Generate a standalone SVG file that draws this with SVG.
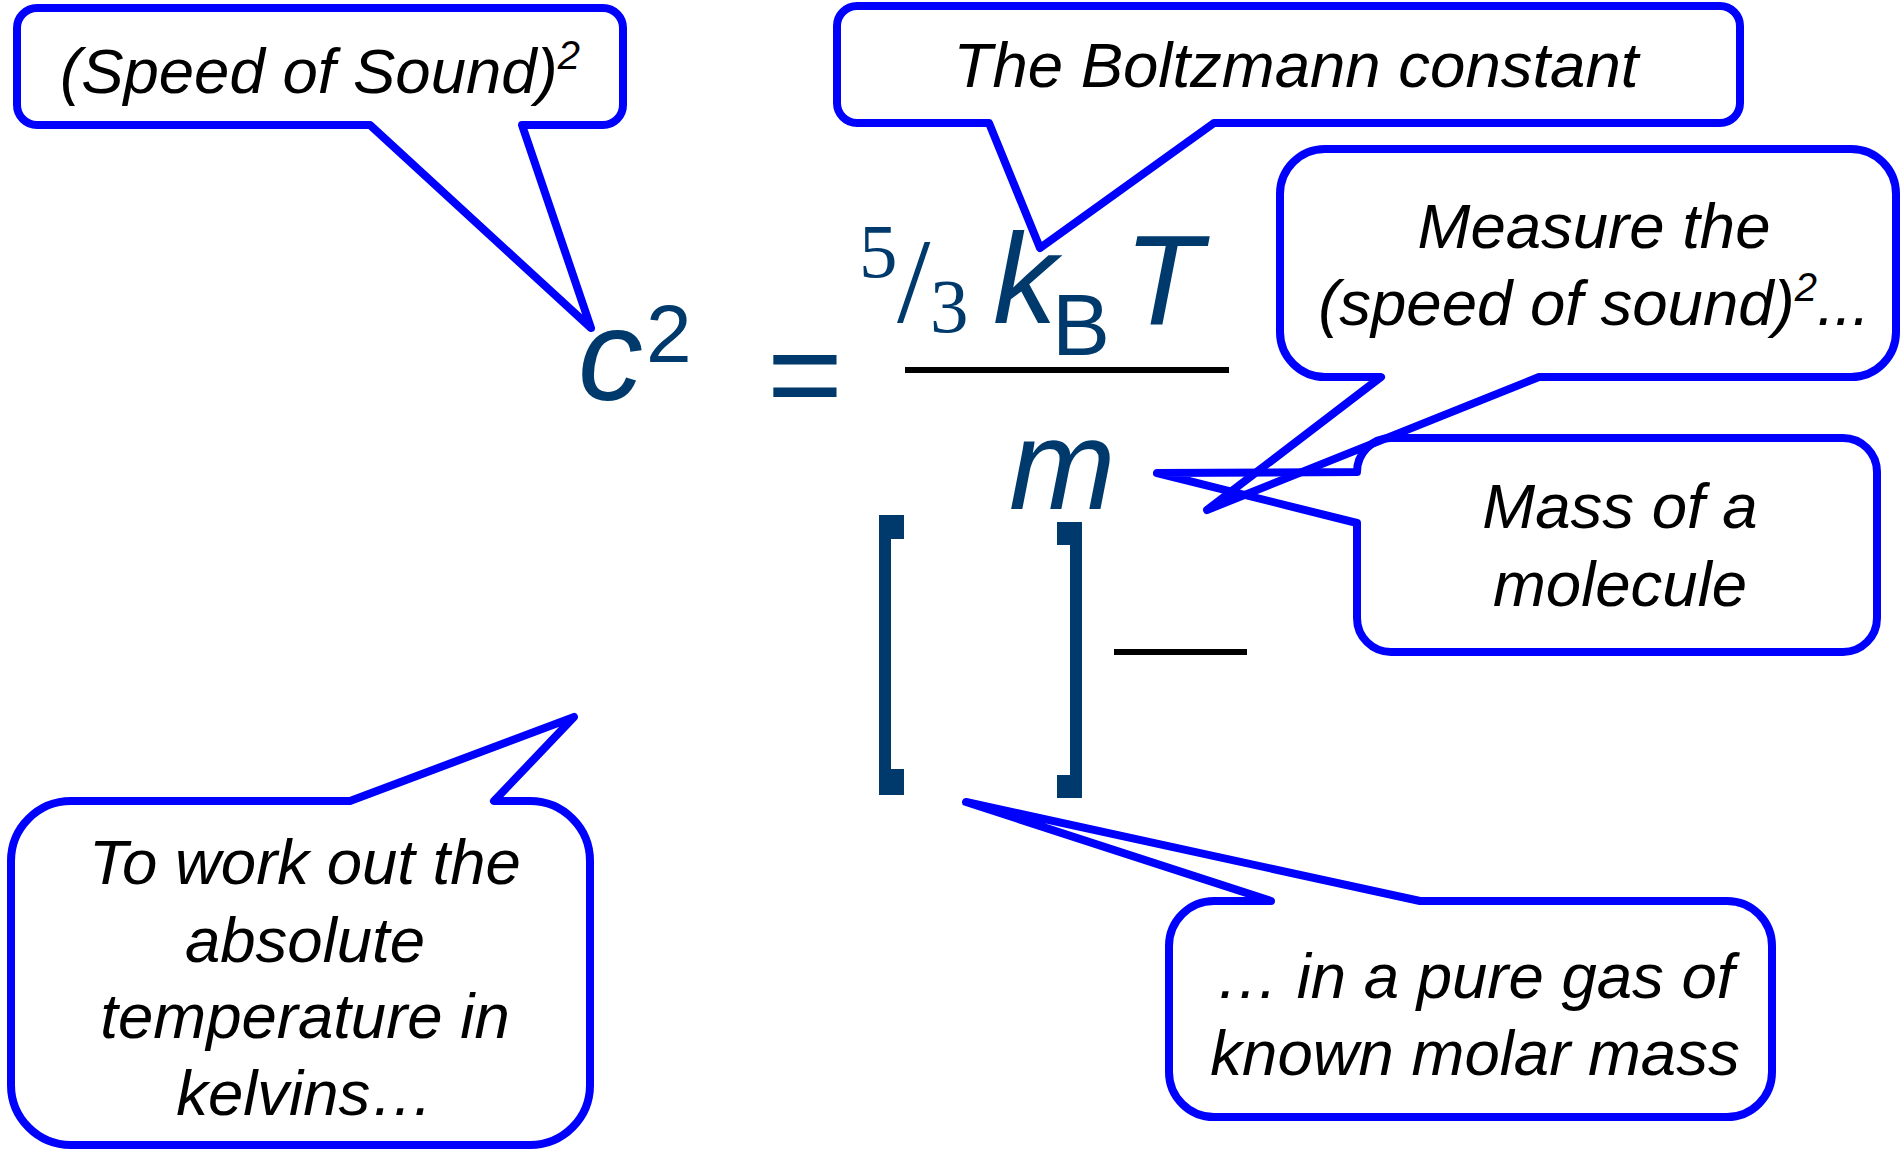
<svg xmlns="http://www.w3.org/2000/svg" width="1903" height="1149" viewBox="0 0 1903 1149">
<style>
.callout{fill:none;stroke:#0000ff;stroke-width:8;stroke-linejoin:round;stroke-linecap:round}
.lbl{font-family:"Liberation Sans",Arial,sans-serif;font-style:italic;font-size:63.5px;fill:#000;text-anchor:middle}
.eq{font-family:"Liberation Sans",Arial,sans-serif;fill:#003a6c}
.eqs{font-family:"Liberation Serif","Times New Roman",serif;fill:#003a6c}
.it{font-style:italic}
</style>
<rect x="0" y="0" width="1903" height="1149" fill="#ffffff"/>

<g id="equation">
  <text class="eq it" x="578" y="400" font-size="130">c</text>
  <text class="eq" x="646" y="362" font-size="82">2</text>
  <text class="eq" x="767" y="419" font-size="130">=</text>
  <text class="eqs" x="859" y="277" font-size="77">5</text>
  <text class="eqs" x="897" y="322" font-size="120">/</text>
  <text class="eqs" x="930" y="332" font-size="77">3</text>
  <text class="eq it" x="993" y="323" font-size="128">k</text>
  <text class="eq" x="1052" y="355" font-size="87">B</text>
  <text class="eq it" x="1124" y="324" font-size="128">T</text>
  <rect x="905" y="367" width="324" height="6" fill="#000"/>
  <text class="eq it" x="1009" y="509" font-size="128">m</text>
  <path d="M879 515 H904 V539 H891 V769 H904 V795 H879 Z" fill="#003a6c"/>
  <path d="M1057 522 H1082 V798 H1057 V775 H1070 V545 H1057 Z" fill="#003a6c"/>
  <rect x="1114" y="649" width="133" height="6" fill="#000"/>
</g>

<g id="callout-speed">
  <path class="callout" d="M37 8 H603 A20 20 0 0 1 623 28 V105 A20 20 0 0 1 603 125 H522 L591 328 L370 125 H37 A20 20 0 0 1 17 105 V28 A20 20 0 0 1 37 8 Z"/>
  <text class="lbl" x="320" y="93">(Speed of Sound)<tspan font-size="40" dy="-24">2</tspan></text>
</g>

<g id="callout-boltzmann">
  <path class="callout" d="M857 6 H1720 A20 20 0 0 1 1740 26 V103 A20 20 0 0 1 1720 123 H1214 L1040 248 L989 123 H857 A20 20 0 0 1 837 103 V26 A20 20 0 0 1 857 6 Z"/>
  <text class="lbl" x="1296" y="87">The Boltzmann constant</text>
</g>

<g id="callout-measure">
  <path class="callout" d="M1325 149 H1851 A45 45 0 0 1 1896 194 V332 A45 45 0 0 1 1851 377 H1539 L1207 510 L1381 377 H1325 A45 45 0 0 1 1280 332 V194 A45 45 0 0 1 1325 149 Z"/>
  <text class="lbl" x="1594" y="248">Measure the</text>
  <text class="lbl" x="1594" y="325">(speed of sound)<tspan font-size="40" dy="-24">2</tspan><tspan dy="24">...</tspan></text>
</g>

<g id="callout-mass">
  <path class="callout" d="M1391 438 H1843 A34 34 0 0 1 1877 472 V618 A34 34 0 0 1 1843 652 H1391 A34 34 0 0 1 1357 618 V523 L1157 473 L1357 472 A34 34 0 0 1 1391 438 Z"/>
  <text class="lbl" x="1620" y="528">Mass of a</text>
  <text class="lbl" x="1620" y="606">molecule</text>
</g>

<g id="callout-temperature">
  <path class="callout" d="M71 801 H350 L574 717 L494 801 H530 A60 60 0 0 1 590 861 V1085 A60 60 0 0 1 530 1145 H71 A60 60 0 0 1 11 1085 V861 A60 60 0 0 1 71 801 Z"/>
  <text class="lbl" x="305" y="884">To work out the</text>
  <text class="lbl" x="305" y="962">absolute</text>
  <text class="lbl" x="305" y="1038">temperature in</text>
  <text class="lbl" x="305" y="1115">kelvins…</text>
</g>

<g id="callout-gas">
  <path class="callout" d="M1214 901 H1271 L966 802 L1420 901 H1727 A45 45 0 0 1 1772 946 V1072 A45 45 0 0 1 1727 1117 H1214 A45 45 0 0 1 1169 1072 V946 A45 45 0 0 1 1214 901 Z"/>
  <text class="lbl" x="1475" y="998">… in a pure gas of</text>
  <text class="lbl" x="1475" y="1075">known molar mass</text>
</g>

<g id="connectors"></g>
</svg>
